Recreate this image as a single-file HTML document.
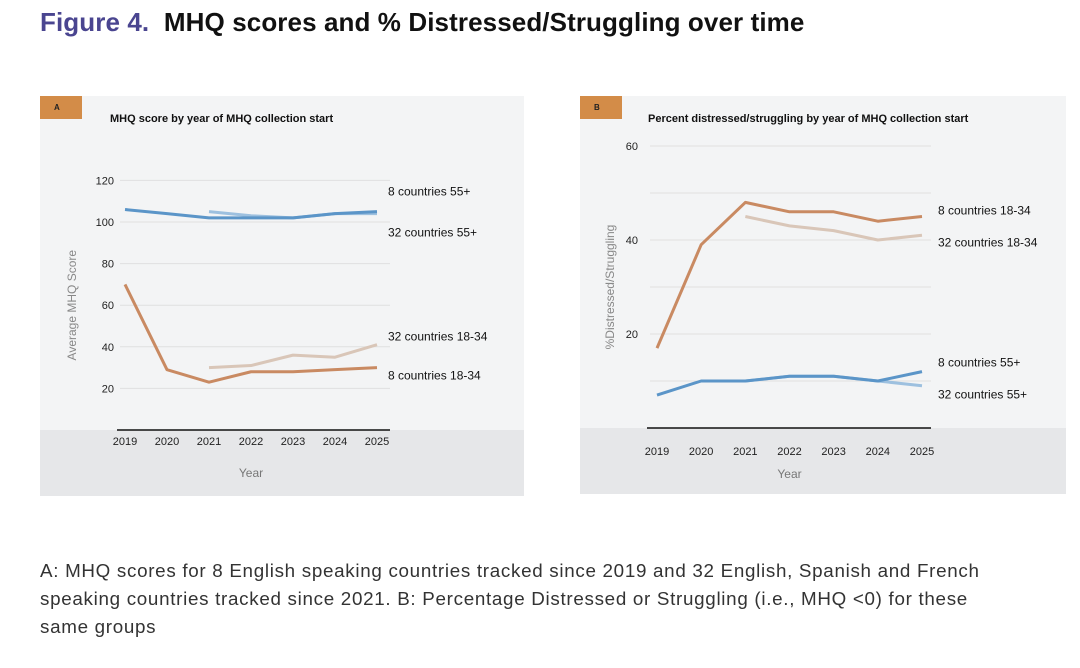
<!DOCTYPE html>
<html><head><meta charset="utf-8"><style>
body{margin:0;background:#fff;width:1080px;height:668px;overflow:hidden;font-family:"Liberation Sans",sans-serif}
#title{position:absolute;left:40px;top:7px;font-size:26px;font-weight:bold;color:#111;white-space:nowrap;letter-spacing:0.1px}
#title span{color:#4a4590}
#cap{position:absolute;left:40px;top:557px;font-size:18.8px;line-height:28px;color:#333;white-space:nowrap;letter-spacing:0.7px}
svg{position:absolute;left:0;top:0}
</style></head><body>
<div id="title"><span>Figure 4.</span>&nbsp; MHQ scores and % Distressed/Struggling over time</div>
<div id="cap">A: MHQ scores for 8 English speaking countries tracked since 2019 and 32 English, Spanish and French<br>speaking countries tracked since 2021. B: Percentage Distressed or Struggling (i.e., MHQ &lt;0) for these<br>same groups</div>
<svg id="s" width="1080" height="668"></svg>
<script>
const years=["2019","2020","2021","2022","2023","2024","2025"];
const a8old=[106,104,102,102,102,104,105];
const a32old=[null,null,105,103,102,104,104];
const a8young=[70,29,23,28,28,29,30];
const a32young=[null,null,30,31,36,35,41];
const aTicks=[20,40,60,80,100,120];
const b8young=[17,39,48,46,46,44,45];
const b32young=[null,null,45,43,42,40,41];
const b8old=[7,10,10,11,11,10,12];
const b32old=[null,null,10,11,11,10,9];
const bTicks=[20,40,60];
const bGrid=[10,20,30,40,50,60];
const NS="http://www.w3.org/2000/svg";
const svg=document.getElementById('s');
function mk(t,at,txt){const e=document.createElementNS(NS,t);for(const k in at)e.setAttribute(k,at[k]);if(txt!=null)e.textContent=txt;svg.appendChild(e);return e;}
function panel(o){
  let r=mk('rect',{x:o.bx,y:o.by,width:o.bw,height:o.bh,fill:'#f3f4f5'});
  
  
  r=mk('rect',{x:o.bx,y:o.y0,width:o.bw,height:o.by+o.bh-o.y0,fill:'#e6e7e9'});
  
  
  r=mk('rect',{x:o.bx,y:o.by,width:42,height:23,fill:'#d38c48'});
  
  
  let t=mk('text',{x:o.bx+14,y:o.by+14,'font-size':8,'font-weight':'bold',fill:'#222'},o.letter);
  
  
  t=mk('text',{x:o.tx,y:o.by+26,'font-size':11,'font-weight':'bold',fill:'#111'},o.title);
  
  
  const X=i=>o.x0+i*(o.x1-o.x0)/6, Y=v=>o.y0-v*o.k;
  o.grid.forEach(v=>{let l=mk('line',{x1:o.gx0,x2:o.gx1,y1:Y(v),y2:Y(v),stroke:'#e0e0e0','stroke-width':1});
    
    });
  o.ticks.forEach(v=>{let e=mk('text',{x:o.tlx,y:Y(v)+4,'font-size':11,fill:'#222','text-anchor':'end'},v);
    
    });
  let l=mk('line',{x1:o.gx0-3,x2:o.gx1,y1:o.y0,y2:o.y0,stroke:'#111','stroke-width':1.5});
  
  
  years.forEach((y,i)=>{let e=mk('text',{x:X(i),y:o.y0+o.xly,'font-size':11,fill:'#222','text-anchor':'middle'},y);
    
    });
  t=mk('text',{x:(o.x0+o.x1)/2,y:o.y0+o.xty,'font-size':12,fill:'#777','text-anchor':'middle'},'Year');
  
  
  const yc=(o.y0+Y(o.ticks[o.ticks.length-1]))/2;
  t=mk('text',{x:o.yax,y:yc,'font-size':12,fill:'#888','text-anchor':'middle',transform:`rotate(-90 ${o.yax} ${yc})`},o.ytitle);
  
  
  o.series.forEach(s=>{
    const pts=[];s.d.forEach((v,i)=>{if(v!=null)pts.push(X(i)+','+Y(v));});
    let p=mk('polyline',{points:pts.join(' '),fill:'none',stroke:s.c,'stroke-width':3,'stroke-linejoin':'round'});
    
    
    const lastV=s.d[6];
    let e=mk('text',{x:o.x1+o.lx,y:Y(lastV)+s.dy,'font-size':12,fill:'#111'},s.label);
    
    
  });
}
panel({id:'panel-a',letter:'A',bx:40,by:96,bw:484,bh:400,tx:110,title:'MHQ score by year of MHQ collection start',
 x0:125,x1:377,y0:430,k:41.6/20,gx0:120,gx1:390,grid:aTicks,ticks:aTicks,tlx:114,xly:15,xty:47,yax:76,ytitle:'Average MHQ Score',lx:11,
 series:[
  {n:'a-32-countries-18-34',d:a32young,c:'#d9c6b8',label:'32 countries 18-34',dy:-4},
  {n:'a-8-countries-18-34',d:a8young,c:'#c98a62',label:'8 countries 18-34',dy:12},
  {n:'a-32-countries-55',d:a32old,c:'#9dc0df',label:'32 countries 55+',dy:23},
  {n:'a-8-countries-55',d:a8old,c:'#5b95c8',label:'8 countries 55+',dy:-16}]});
panel({id:'panel-b',letter:'B',bx:580,by:96,bw:486,bh:398,tx:648,title:'Percent distressed/struggling by year of MHQ collection start',
 x0:657,x1:922,y0:428,k:94/20,gx0:650,gx1:931,grid:bGrid,ticks:bTicks,tlx:638,xly:27,xty:50,yax:614,ytitle:'%Distressed/Struggling',lx:16,
 series:[
  {n:'b-32-countries-18-34',d:b32young,c:'#d9c6b8',label:'32 countries 18-34',dy:11},
  {n:'b-8-countries-18-34',d:b8young,c:'#c98a62',label:'8 countries 18-34',dy:-2},
  {n:'b-32-countries-55',d:b32old,c:'#9dc0df',label:'32 countries 55+',dy:13},
  {n:'b-8-countries-55',d:b8old,c:'#5b95c8',label:'8 countries 55+',dy:-5}]});
</script>
</body></html>
